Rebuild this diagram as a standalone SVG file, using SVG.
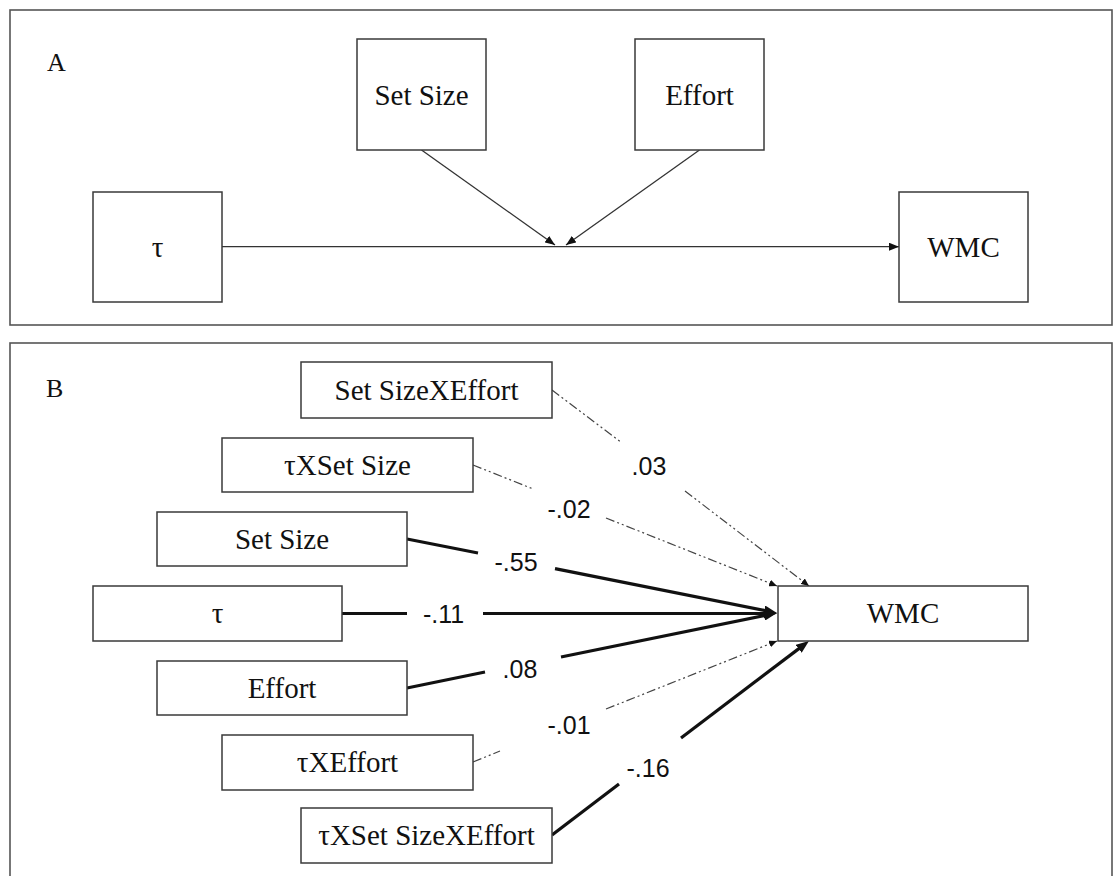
<svg xmlns="http://www.w3.org/2000/svg" width="1115" height="876" viewBox="0 0 1115 876">
  <style>
    .panel { fill: none; stroke: #555; stroke-width: 1.6; }
    .box { fill: #fff; stroke: #3a3a3a; stroke-width: 1.5; }
    .name { font-family: "Liberation Serif", "Times New Roman", serif; font-size: 29px; fill: #111; text-anchor: middle; }
    .tag { font-family: "Liberation Serif", "Times New Roman", serif; font-size: 26px; fill: #111; }
    .coef { font-family: "Liberation Sans", Arial, sans-serif; font-size: 25px; fill: #111; text-anchor: middle; }
    .thin { fill: none; stroke: #333; stroke-width: 1.3; }
    .strong { fill: none; stroke: #111; stroke-width: 3.2; }
    .weak { fill: none; stroke: #444; stroke-width: 1.2; stroke-dasharray: 9 3 2 3 2 3; }
  </style>
  <defs>
    <marker id="arrA" markerUnits="userSpaceOnUse" markerWidth="10" markerHeight="8" refX="10" refY="4" orient="auto">
      <path d="M0,0 L10,4 L0,8 z" fill="#111"/>
    </marker>
    <marker id="arrStrong" markerUnits="userSpaceOnUse" markerWidth="13" markerHeight="10" refX="7" refY="5" orient="auto">
      <path d="M0,0 L13,5 L0,10 z" fill="#111"/>
    </marker>
    <marker id="arrWeak" markerUnits="userSpaceOnUse" markerWidth="8" markerHeight="7" refX="8" refY="3.5" orient="auto">
      <path d="M0,0 L8,3.5 L0,7 z" fill="#111"/>
    </marker>
  </defs>

  <rect width="1115" height="876" fill="#fff"/>

  <!-- Panel A: moderation model -->
  <rect class="panel" x="10" y="10" width="1102" height="315"/>
  <text class="tag" x="47" y="71">A</text>

  <g id="connectors-a">
    <line class="thin" x1="222" y1="246.7" x2="899" y2="246.7" marker-end="url(#arrA)"/>
    <line class="thin" x1="421.5" y1="150" x2="555" y2="245" marker-end="url(#arrA)"/>
    <line class="thin" x1="699.5" y1="150" x2="566" y2="245" marker-end="url(#arrA)"/>
  </g>

  <g id="a-tau">
    <rect class="box" x="93" y="192" width="129" height="110"/>
    <text class="name" x="157.5" y="257">τ</text>
  </g>
  <g id="a-setsize">
    <rect class="box" x="357" y="39" width="129" height="111"/>
    <text class="name" x="421.5" y="105">Set Size</text>
  </g>
  <g id="a-effort">
    <rect class="box" x="635" y="39" width="129" height="111"/>
    <text class="name" x="699.5" y="105">Effort</text>
  </g>
  <g id="a-wmc">
    <rect class="box" x="899" y="192" width="129" height="110"/>
    <text class="name" x="963.5" y="257">WMC</text>
  </g>

  <!-- Panel B: path coefficients -->
  <rect class="panel" x="10" y="343" width="1102" height="560"/>
  <text class="tag" x="46" y="397">B</text>

  <g id="connectors-b">
    <!-- Set Size x Effort -->
    <line class="weak" x1="552" y1="390" x2="622" y2="443"/>
    <line class="weak" x1="685" y1="491" x2="809" y2="586" marker-end="url(#arrWeak)"/>
    <text class="coef" x="649" y="475">.03</text>
    <!-- tau x Set Size -->
    <line class="weak" x1="473" y1="465" x2="532" y2="488.5"/>
    <line class="weak" x1="606" y1="518" x2="777" y2="586" marker-end="url(#arrWeak)"/>
    <text class="coef" x="569" y="518">-.02</text>
    <!-- Set Size -->
    <line class="strong" x1="407" y1="539" x2="478" y2="553"/>
    <line class="strong" x1="555" y1="568.6" x2="771.1" y2="611.8" marker-end="url(#arrStrong)"/>
    <text class="coef" x="516" y="571">-.55</text>
    <!-- tau -->
    <line class="strong" x1="342" y1="613.5" x2="407" y2="613.5"/>
    <line class="strong" x1="483" y1="613.5" x2="771" y2="613.5" marker-end="url(#arrStrong)"/>
    <text class="coef" x="443.5" y="623">-.11</text>
    <!-- Effort -->
    <line class="strong" x1="407" y1="688" x2="485" y2="672"/>
    <line class="strong" x1="561" y1="657" x2="771.1" y2="614.2" marker-end="url(#arrStrong)"/>
    <text class="coef" x="520" y="678">.08</text>
    <!-- tau x Effort -->
    <line class="weak" x1="473" y1="762" x2="500" y2="751"/>
    <line class="weak" x1="606" y1="709" x2="777" y2="641" marker-end="url(#arrWeak)"/>
    <text class="coef" x="569" y="734">-.01</text>
    <!-- tau x Set Size x Effort -->
    <line class="strong" x1="552" y1="835" x2="619" y2="784"/>
    <line class="strong" x1="681" y1="738" x2="804.2" y2="644.6" marker-end="url(#arrStrong)"/>
    <text class="coef" x="648" y="777">-.16</text>
  </g>

  <g id="b-setsize-x-effort">
    <rect class="box" x="301" y="362" width="251" height="56"/>
    <text class="name" x="426.5" y="400">Set SizeXEffort</text>
  </g>
  <g id="b-tau-x-setsize">
    <rect class="box" x="222" y="438" width="251" height="54"/>
    <text class="name" x="347.5" y="475">τXSet Size</text>
  </g>
  <g id="b-setsize">
    <rect class="box" x="157" y="512" width="250" height="54"/>
    <text class="name" x="282" y="549">Set Size</text>
  </g>
  <g id="b-tau">
    <rect class="box" x="93" y="586" width="249" height="55"/>
    <text class="name" x="217.5" y="623">τ</text>
  </g>
  <g id="b-effort">
    <rect class="box" x="157" y="661" width="250" height="54"/>
    <text class="name" x="282" y="698">Effort</text>
  </g>
  <g id="b-tau-x-effort">
    <rect class="box" x="222" y="735" width="251" height="55"/>
    <text class="name" x="347.5" y="772">τXEffort</text>
  </g>
  <g id="b-tau-x-setsize-x-effort">
    <rect class="box" x="301" y="808" width="251" height="55"/>
    <text class="name" x="426.5" y="845">τXSet SizeXEffort</text>
  </g>
  <g id="b-wmc">
    <rect class="box" x="778" y="586" width="250" height="55"/>
    <text class="name" x="903" y="623">WMC</text>
  </g>
</svg>
